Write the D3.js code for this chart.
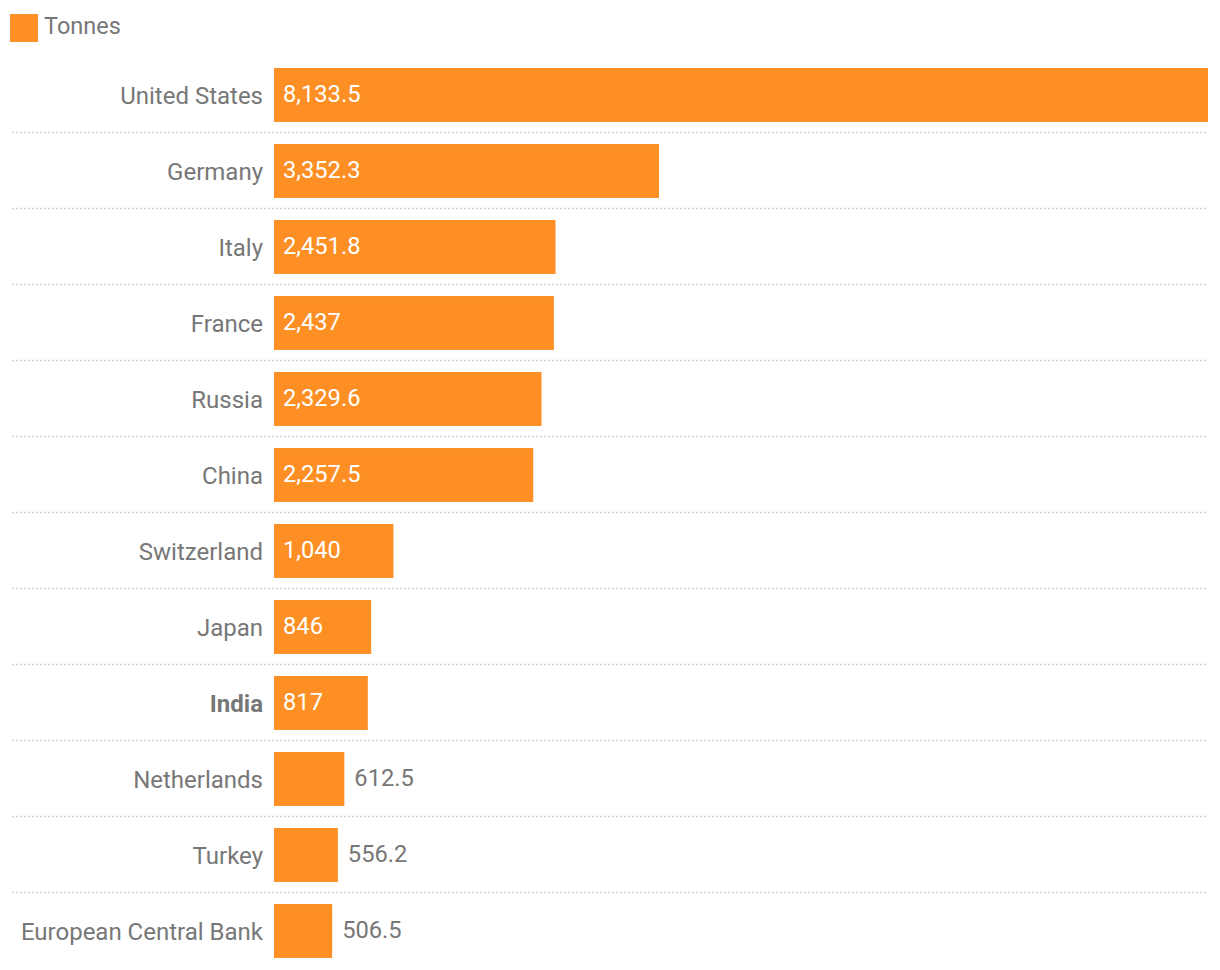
<!DOCTYPE html>
<html><head><meta charset="utf-8">
<script src="https://cdn.jsdelivr.net/npm/d3@7"></script>
<style>
body{margin:0;background:#fff;font-family:Roboto,"Noto Sans",sans-serif;}
</style></head><body>
<svg id="chart" width="1220" height="970"></svg>
<script>
const categories = ["United States","Germany","Italy","France","Russia","China","Switzerland","Japan","India","Netherlands","Turkey","European Central Bank"];
const tonnes = [8133.5,3352.3,2451.8,2437,2329.6,2257.5,1040,846,817,612.5,556.2,506.5];
const seriesName = "Tonnes";
const highlighted = ["India"];

const color = "#fd8f24";
const textColor = "#777777";
const svg = d3.select("#chart");
const x0 = 274, x1 = 1208;
const x = d3.scaleLinear().domain([0, d3.max(tonnes)]).range([x0, x1]);
const y = d3.scaleBand().domain(categories).range([57, 57 + 76 * categories.length]).paddingInner(0.29).paddingOuter(0.145);
const step = y.step();

// legend
svg.append("rect").attr("x",10).attr("y",14).attr("width",28).attr("height",28).attr("fill",color);
svg.append("text").attr("x",44).attr("y",34).attr("font-size",23.5).attr("fill",textColor).text(seriesName);

// separators
categories.slice(0,-1).forEach((c,i)=>{
  const yy = 57 + step*(i+1) - 0.5;
  svg.append("line").attr("x1",12).attr("x2",1208).attr("y1",yy).attr("y2",yy)
    .attr("stroke","#d0d0d0").attr("stroke-width",1.5).attr("stroke-dasharray","2,2");
});

const data = categories.map((c,i)=>({c, v:tonnes[i]}));
const fmt = d3.format(",");

svg.selectAll("rect.bar").data(data).enter().append("rect").attr("class","bar")
  .attr("x", x(0)).attr("y", d=>y(d.c)).attr("width", d=>x(d.v)-x(0)).attr("height", y.bandwidth())
  .attr("fill", color);

svg.selectAll("text.cat").data(data).enter().append("text").attr("class","cat")
  .attr("x", 263).attr("y", d=>y(d.c)+y.bandwidth()/2 + 1).attr("dy","0.35em")
  .attr("text-anchor","end").attr("font-size",24).attr("fill",textColor)
  .attr("font-weight", d=>highlighted.includes(d.c)?"bold":"normal")
  .text(d=>d.c);

svg.selectAll("text.val").data(data).enter().append("text").attr("class","val")
  .each(function(d){
    const w = x(d.v)-x(0);
    const inside = w > 85;
    d3.select(this).attr("x", inside ? x(0)+9 : x(d.v)+10)
      .attr("fill", inside ? "#ffffff" : textColor);
  })
  .attr("y", d=>y(d.c)+y.bandwidth()/2 - 1).attr("dy","0.35em")
  .attr("font-size",23.7)
  .text(d=>fmt(d.v));
</script>
</body></html>
